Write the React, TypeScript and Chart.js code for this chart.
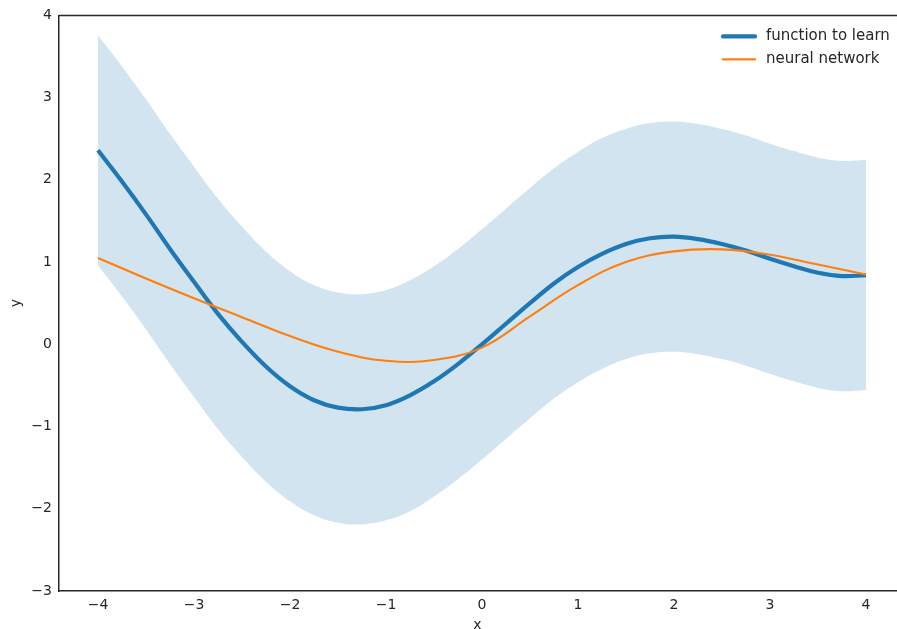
import React, { useEffect, useRef } from "react";
import { Chart, registerables } from "chart.js";

Chart.register(...registerables);

// x positions for the target function and its uncertainty band
const X_FN = [-4, -3.75, -3.5, -3.25, -3, -2.75, -2.5, -2.25, -2, -1.75, -1.5, -1.25, -1, -0.75, -0.5, -0.25, 0, 0.25, 0.5, 0.75, 1, 1.25, 1.5, 1.75, 2, 2.25, 2.5, 2.75, 3, 3.25, 3.5, 3.75, 4];
const FN_VALUES = [2.36, 1.98, 1.58, 1.16, 0.76, 0.37, 0.03, -0.27, -0.51, -0.68, -0.77, -0.79, -0.74, -0.62, -0.45, -0.24, 0, 0.25, 0.5, 0.74, 0.94, 1.1, 1.22, 1.29, 1.31, 1.28, 1.22, 1.14, 1.04, 0.95, 0.87, 0.83, 0.84];
const BAND_UPPER = [3.76, 3.38, 2.98, 2.56, 2.16, 1.77, 1.43, 1.13, 0.89, 0.72, 0.63, 0.61, 0.66, 0.78, 0.95, 1.16, 1.4, 1.65, 1.9, 2.14, 2.34, 2.51, 2.62, 2.69, 2.71, 2.68, 2.62, 2.54, 2.44, 2.35, 2.27, 2.23, 2.24];
const BAND_LOWER = [0.96, 0.58, 0.18, -0.24, -0.64, -1.03, -1.37, -1.67, -1.91, -2.08, -2.17, -2.19, -2.14, -2.03, -1.85, -1.64, -1.4, -1.15, -0.9, -0.66, -0.46, -0.3, -0.18, -0.11, -0.09, -0.12, -0.18, -0.26, -0.36, -0.45, -0.53, -0.57, -0.56];

// neural network prediction
const X_NN = [-4, -3.5, -3, -2.5, -2, -1.5, -1, -0.5, 0, 0.5, 1, 1.5, 2, 2.5, 3, 3.5, 4];
const NN_VALUES = [1.05, 0.8, 0.56, 0.33, 0.1, -0.09, -0.2, -0.19, -0.04, 0.34, 0.72, 1.0, 1.13, 1.155, 1.09, 0.97, 0.85];

const X_TICKS = [-4, -3, -2, -1, 0, 1, 2, 3, 4];
const Y_TICKS = [-3, -2, -1, 0, 1, 2, 3, 4];
const X_MIN = -4.406;
const X_MAX = 4.313;

const SERIES_LABELS = ["function to learn", "neural network"];
const AXIS_COLOR = "#262626";
const FONT = "DejaVu Sans";

const fmt = (v: number) => String(v).replace("-", "\u2212");

const pts = (xs: number[], ys: number[]) => xs.map((x, i) => ({ x, y: ys[i] }));

const frameAndLegend = {
  id: "frameAndLegend",
  afterDraw(chart: any) {
    const { ctx, chartArea } = chart;
    ctx.save();
    // top spine
    ctx.strokeStyle = AXIS_COLOR;
    ctx.lineWidth = 1.5;
    ctx.beginPath();
    ctx.moveTo(chartArea.left, chartArea.top);
    ctx.lineTo(chart.width, chartArea.top);
    ctx.stroke();
    // legend
    const items = chart.data.datasets.filter((d: any) => SERIES_LABELS.includes(d.label));
    items.sort((a: any, b: any) => SERIES_LABELS.indexOf(a.label) - SERIES_LABELS.indexOf(b.label));
    items.forEach((d: any, i: number) => {
      const y = chartArea.top + 21 + i * 23;
      const x0 = chart.width - 174;
      ctx.strokeStyle = d.borderColor;
      ctx.lineWidth = d.borderWidth;
      ctx.lineCap = "round";
      ctx.beginPath();
      ctx.moveTo(x0, y);
      ctx.lineTo(x0 + 32, y);
      ctx.stroke();
      ctx.fillStyle = AXIS_COLOR;
      ctx.font = `15px "${FONT}"`;
      ctx.textBaseline = "middle";
      ctx.textAlign = "left";
      ctx.fillText(d.label, x0 + 43, y);
    });
    ctx.restore();
  },
};

export default function App() {
  const ref = useRef<HTMLCanvasElement>(null);
  useEffect(() => {
    if (!ref.current) return;
    Chart.defaults.font.family = FONT;
    Chart.defaults.font.size = 14;
    Chart.defaults.color = AXIS_COLOR;
    const chart = new Chart(ref.current, {
      type: "line",
      data: {
        datasets: [
          {
            label: SERIES_LABELS[1],
            data: pts(X_NN, NN_VALUES),
            borderColor: "#ff7f0e",
            borderWidth: 2.1,
            pointRadius: 0,
            tension: 0.4,
            fill: false,
            order: 0,
          },
          {
            label: SERIES_LABELS[0],
            data: pts(X_FN, FN_VALUES),
            borderColor: "#1f77b4",
            borderWidth: 4.2,
            pointRadius: 0,
            tension: 0.4,
            fill: false,
            order: 1,
          },
          {
            label: "band upper",
            data: pts(X_FN, BAND_UPPER),
            borderWidth: 0,
            borderColor: "rgba(0,0,0,0)",
            backgroundColor: "rgba(31,119,180,0.2)",
            pointRadius: 0,
            tension: 0.4,
            fill: "+1",
            order: 2,
          },
          {
            label: "band lower",
            data: pts(X_FN, BAND_LOWER),
            borderWidth: 0,
            borderColor: "rgba(0,0,0,0)",
            pointRadius: 0,
            tension: 0.4,
            fill: false,
            order: 3,
          },
        ],
      },
      options: {
        animation: false,
        responsive: false,
        events: [],
        layout: { padding: { top: 14, right: 1, left: 0, bottom: 0 } },
        plugins: {
          legend: { display: false },
          tooltip: { enabled: false },
        },
        scales: {
          x: {
            type: "linear",
            min: X_MIN,
            max: X_MAX,
            grid: { display: false, drawTicks: false },
            border: { display: true, color: AXIS_COLOR, width: 1.5 },
            afterBuildTicks: (s: any) => {
              s.ticks = X_TICKS.map((v) => ({ value: v }));
            },
            afterFit: (s: any) => {
              s.height = 38;
            },
            ticks: { padding: 6, color: AXIS_COLOR, callback: (v: any) => fmt(Number(v)), maxRotation: 0 },
            title: { display: true, text: "x", color: AXIS_COLOR, padding: { top: 0, bottom: -5 } },
          },
          y: {
            type: "linear",
            min: -3,
            max: 4,
            grid: { display: false, drawTicks: false },
            border: { display: true, color: AXIS_COLOR, width: 1.5 },
            afterBuildTicks: (s: any) => {
              s.ticks = Y_TICKS.map((v) => ({ value: v }));
            },
            afterFit: (s: any) => {
              s.width = 59;
            },
            ticks: { padding: 7, color: AXIS_COLOR, callback: (v: any) => fmt(Number(v)) },
            title: { display: true, text: "y", color: AXIS_COLOR, padding: { top: 8, bottom: 0 } },
          },
        },
      },
      plugins: [frameAndLegend],
    });
    return () => chart.destroy();
  }, []);
  return (
    <div style={{ position: "fixed", left: 0, top: 0, width: 897, height: 629, background: "#fff" }}>
      <canvas ref={ref} width={897} height={629} />
    </div>
  );
}
